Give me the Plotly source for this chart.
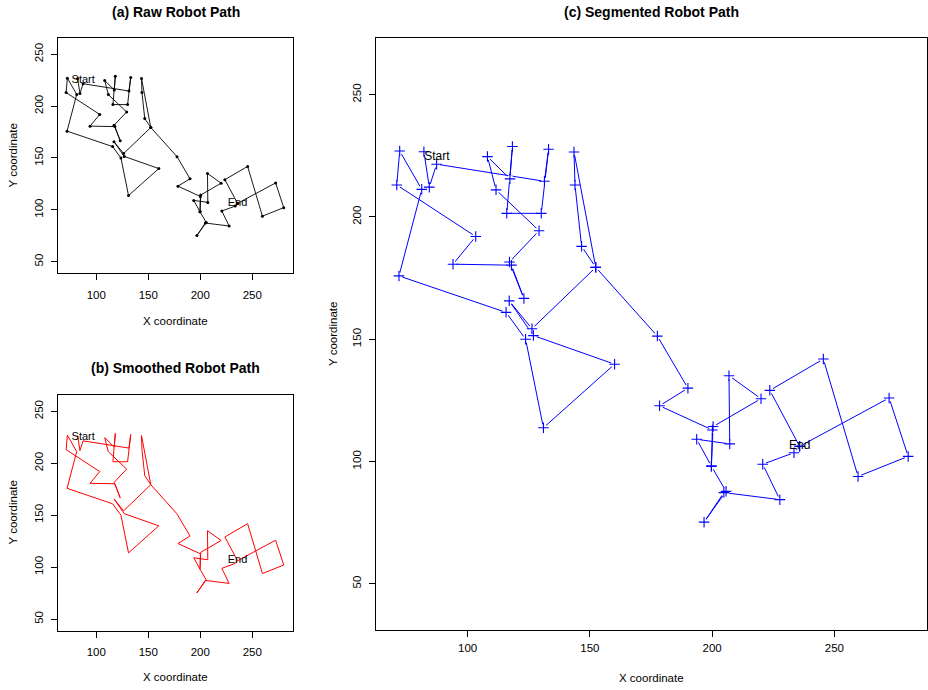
import plotly.graph_objects as go

# Segment breakpoints of the robot path, in travel order
path_x = [82.1, 84.3, 87.3, 131.4, 133.1, 130.1, 116.0, 118.3, 117.3, 108.1,
          111.6, 129.2, 117.1, 123.0, 117.9, 94.0, 103.3, 71.0, 72.2, 81.2,
          71.9, 115.7, 123.7, 131.0, 160.1, 126.9, 117.0, 126.3, 152.4, 143.5,
          143.9, 146.6, 152.4, 177.6, 190.1, 178.5, 200.1, 199.7, 200.4, 220.0,
          206.9, 207.2, 193.7, 199.7, 205.7, 196.7, 204.8, 227.7, 220.7, 233.5,
          235.8, 223.6, 245.5, 259.7, 280.2, 272.4, 235.8]
path_y = [226.7, 212.2, 221.6, 214.6, 227.7, 201.5, 201.5, 228.8, 215.6, 224.7,
          211.1, 194.4, 181.6, 166.7, 180.3, 180.7, 192.0, 213.1, 227.0, 211.3,
          175.9, 161.0, 150.0, 113.8, 139.8, 151.5, 165.7, 154.3, 179.4, 226.6,
          213.1, 188.0, 179.4, 151.3, 130.0, 122.8, 112.9, 98.1, 114.3, 125.7,
          135.1, 107.2, 109.1, 98.1, 87.8, 75.2, 87.3, 84.4, 98.9, 103.6,
          106.2, 129.1, 141.9, 93.9, 102.1, 126.0, 106.2]

label_text = ["Start", "End"]
label_x = [87.4, 235.8]
label_y = [224.7, 106.4]

x_ticks = [100, 150, 200, 250]
y_ticks = [50, 100, 150, 200, 250]

FONT = "Liberation Sans, Arial, sans-serif"
W, H = 928, 690

fig = go.Figure()

# (a) raw
fig.add_trace(go.Scatter(x=path_x, y=path_y, mode="lines+markers",
                         line=dict(color="black", width=0.9),
                         marker=dict(size=3, color="black"),
                         xaxis="x", yaxis="y", showlegend=False, hoverinfo="skip"))
# (b) smoothed
fig.add_trace(go.Scatter(x=path_x, y=path_y, mode="lines",
                         line=dict(color="red", width=1),
                         xaxis="x2", yaxis="y2", showlegend=False, hoverinfo="skip"))
# (c) segmented: line, white gap around each breakpoint, then the + marks
fig.add_trace(go.Scatter(x=path_x, y=path_y, mode="lines",
                         line=dict(color="blue", width=1),
                         xaxis="x3", yaxis="y3", showlegend=False, hoverinfo="skip"))
fig.add_trace(go.Scatter(x=path_x, y=path_y, mode="markers",
                         marker=dict(symbol="circle", size=7, color="white",
                                     line=dict(width=0)),
                         xaxis="x3", yaxis="y3", showlegend=False, hoverinfo="skip"))
fig.add_trace(go.Scatter(x=path_x, y=path_y, mode="markers",
                         marker=dict(symbol="cross-thin", size=7.5,
                                     line=dict(color="blue", width=1.1)),
                         xaxis="x3", yaxis="y3", showlegend=False, hoverinfo="skip"))

for xa, ya, fs in [("x", "y", 11), ("x2", "y2", 11), ("x3", "y3", 12)]:
    fig.add_trace(go.Scatter(x=label_x, y=label_y, mode="text", text=label_text,
                             textfont=dict(family=FONT, size=fs, color="black"),
                             textposition="middle center",
                             xaxis=xa, yaxis=ya, showlegend=False, hoverinfo="skip"))


def px_x(p):
    return p / W


def px_y(p):
    return 1 - p / H


def xaxis(dom, rng, anchor, standoff=5):
    return dict(domain=dom, range=rng, anchor=anchor, tickvals=x_ticks,
                showline=True, mirror=True, linecolor="black", linewidth=1,
                ticks="outside", ticklen=6, tickcolor="black", tickwidth=1,
                showgrid=False, zeroline=False, ticklabelstandoff=standoff,
                tickfont=dict(family=FONT, size=11.5, color="black"))


def yaxis(dom, rng, anchor):
    return dict(domain=dom, range=rng, anchor=anchor, tickvals=y_ticks,
                showline=True, mirror=True, linecolor="black", linewidth=1,
                ticks="outside", ticklen=6, tickcolor="black", tickwidth=1,
                showgrid=False, zeroline=False, tickangle=-90, ticklabelstandoff=3,
                tickfont=dict(family=FONT, size=11.5, color="black"))


xa_dom = [px_x(58), px_x(293)]
fig.update_layout(
    width=W, height=H, margin=dict(l=0, r=0, t=0, b=0),
    paper_bgcolor="white", plot_bgcolor="white",
    xaxis=xaxis(xa_dom, [63.2, 289.1], "y"),
    yaxis=yaxis([px_y(273), px_y(38)], [39.1, 265.7], "x"),
    xaxis2=xaxis(xa_dom, [63.2, 289.1], "y2"),
    yaxis2=yaxis([px_y(630.5), px_y(395)], [39.1, 265.7], "x2"),
    xaxis3=xaxis([px_x(376), px_x(927)], [62.5, 287.9], "y3", standoff=1),
    yaxis3=yaxis([px_y(630), px_y(38)], [31.1, 273.2], "x3"),
)

ann = []
titles = [("(a) Raw Robot Path", 175.5, 12), ("(b) Smoothed Robot Path", 175.5, 368),
          ("(c) Segmented Robot Path", 651.5, 12)]
for t, x, y in titles:
    ann.append(dict(text="<b>%s</b>" % t, x=px_x(x), y=px_y(y), xref="paper", yref="paper",
                    showarrow=False, xanchor="center", yanchor="middle",
                    font=dict(family=FONT, size=14, color="black")))
xlabels = [(175.5, 321), (175.5, 677), (651.5, 678)]
for x, y in xlabels:
    ann.append(dict(text="X coordinate", x=px_x(x), y=px_y(y), xref="paper", yref="paper",
                    showarrow=False, xanchor="center", yanchor="middle",
                    font=dict(family=FONT, size=11.5, color="black")))
ylabels = [(12, 155.5), (12, 512.5), (333, 334)]
for x, y in ylabels:
    ann.append(dict(text="Y coordinate", x=px_x(x), y=px_y(y), xref="paper", yref="paper",
                    showarrow=False, xanchor="center", yanchor="middle", textangle=-90,
                    font=dict(family=FONT, size=11.5, color="black")))
fig.update_layout(annotations=ann)

fig.write_html("out.html", config={"displayModeBar": False},
               post_script="document.body.style.margin='0';document.body.style.padding='0';")
